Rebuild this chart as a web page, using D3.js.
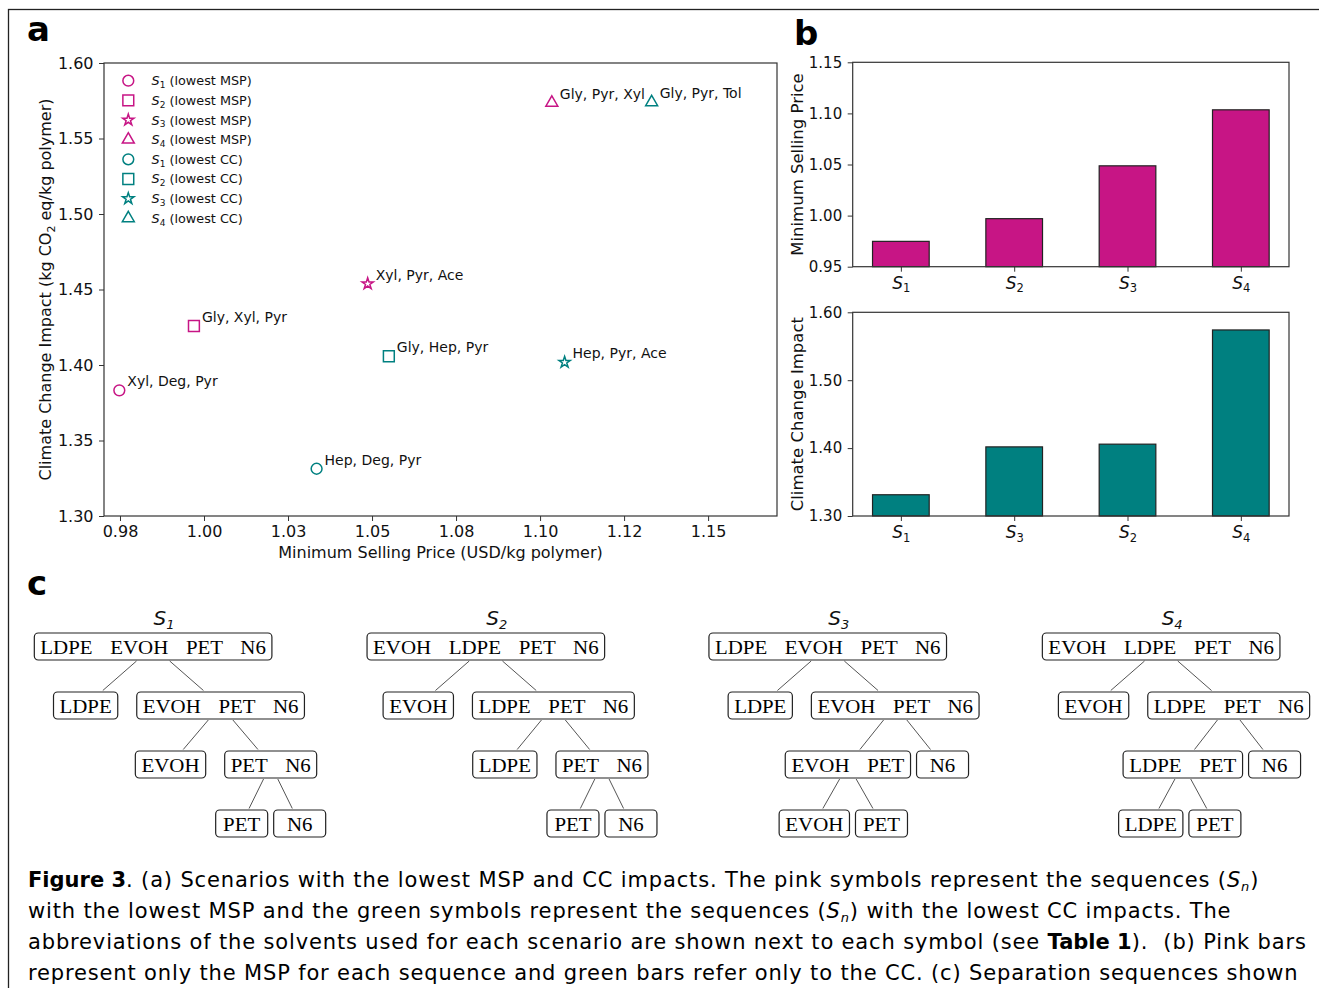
<!DOCTYPE html>
<html>
<head>
<meta charset="utf-8">
<script src="https://cdn.jsdelivr.net/npm/d3@7"></script>
<style>
  body { margin: 0; background: #fff; }
  text { font-family: "DejaVu Sans", sans-serif; fill: #111; }
</style>
</head>
<body>
<svg id="fig" width="1319" height="988"></svg>
<script>
// sequence ids used by every panel
var seqs = ["S1", "S2", "S3", "S4"];

// panel a: cheapest scenario (pink) and lowest-CC scenario (teal) per sequence
var mspSolvents = ["Xyl, Deg, Pyr", "Gly, Xyl, Pyr", "Xyl, Pyr, Ace", "Gly, Pyr, Xyl"];
var mspPrice    = [0.9748, 0.9970, 1.0487, 1.1035];
var mspImpact   = [1.3832, 1.4258, 1.4538, 1.5737];

var ccSolvents = ["Hep, Deg, Pyr", "Gly, Hep, Pyr", "Hep, Pyr, Ace", "Gly, Pyr, Tol"];
var ccPrice    = [1.0335, 1.0550, 1.1073, 1.1332];
var ccImpact   = [1.3313, 1.4058, 1.4018, 1.5740];

var xTicks      = [0.975, 1.0, 1.025, 1.05, 1.075, 1.1, 1.125, 1.15];
var xTickLabels = ["0.98", "1.00", "1.03", "1.05", "1.08", "1.10", "1.12", "1.15"];
var yTicks      = [1.30, 1.35, 1.40, 1.45, 1.50, 1.55, 1.60];

// panel b
var mspBarTicks = [0.95, 1.00, 1.05, 1.10, 1.15];
var ccBarOrder  = ["S1", "S3", "S2", "S4"];
var ccBarTicks  = [1.30, 1.40, 1.50, 1.60];

// panel c: separation sequences (n = polymers in the stream, c = split)
var treeS1 = {n: "LDPE EVOH PET N6", c: [{n: "LDPE"}, {n: "EVOH PET N6", c: [{n: "EVOH"}, {n: "PET N6", c: [{n: "PET"}, {n: "N6"}]}]}]};
var treeS2 = {n: "EVOH LDPE PET N6", c: [{n: "EVOH"}, {n: "LDPE PET N6", c: [{n: "LDPE"}, {n: "PET N6", c: [{n: "PET"}, {n: "N6"}]}]}]};
var treeS3 = {n: "LDPE EVOH PET N6", c: [{n: "LDPE"}, {n: "EVOH PET N6", c: [{n: "EVOH PET", c: [{n: "EVOH"}, {n: "PET"}]}, {n: "N6"}]}]};
var treeS4 = {n: "EVOH LDPE PET N6", c: [{n: "EVOH"}, {n: "LDPE PET N6", c: [{n: "LDPE PET", c: [{n: "LDPE"}, {n: "PET"}]}, {n: "N6"}]}]};
var trees = [treeS1, treeS2, treeS3, treeS4];

var caption = [
  [["b", "Figure 3"], ["", ". (a) Scenarios with the lowest MSP and CC impacts. The pink symbols represent the sequences ("], ["i", "S"], ["s", "n"], ["", ")"]],
  [["", "with the lowest MSP and the green symbols represent the sequences ("], ["i", "S"], ["s", "n"], ["", ") with the lowest CC impacts. The"]],
  [["", "abbreviations of the solvents used for each scenario are shown next to each symbol (see "], ["b", "Table 1"], ["", ").\u00a0 (b) Pink bars"]],
  [["", "represent only the MSP for each sequence and green bars refer only to the CC. (c) Separation sequences shown"]]
];

var pink = "#c71585", teal = "#008080", ink = "#333";
var shapes = [d3.symbolCircle, d3.symbolSquare, d3.symbolStar, d3.symbolTriangle];
var shapeSize = [92, 118, 40, 62];

var svg = d3.select("#fig");

svg.append("rect")
  .attr("x", 8.5).attr("y", 9.5).attr("width", 1400).attr("height", 1100)
  .attr("fill", "none").attr("stroke", "#222").attr("stroke-width", 1.3);

function panelLabel(t, px, py) {
  svg.append("text").attr("x", px).attr("y", py).text(t)
    .style("font-weight", "bold").style("font-size", "34px").style("fill", "#000");
}
panelLabel("a", 27, 41);
panelLabel("b", 794, 45);
panelLabel("c", 27, 595);

function styleAxis(g, size) {
  g.attr("font-family", null).attr("font-size", null);
  g.selectAll("text").style("font-size", size + "px").style("fill", "#111");
  g.selectAll("line").attr("stroke", ink);
  g.select(".domain").remove();
}

// S with a subscript number
function subLabel(sel, num, big, small, italicSub) {
  sel.append("tspan").text("S").style("font-style", "italic").style("font-size", big + "px");
  sel.append("tspan").text(num).attr("dy", big * 0.22)
    .style("font-size", small + "px").style("font-style", italicSub ? "italic" : "normal");
}

// ---------- panel a ----------
var x = d3.scaleLinear().domain([0.97024, 1.1705]).range([104, 777]);
var y = d3.scaleLinear().domain([1.30, 1.60]).range([516, 63]);

svg.append("g").attr("transform", "translate(0,516)")
  .call(d3.axisBottom(x).tickValues(xTicks).tickFormat(function(d, i) { return xTickLabels[i]; })
    .tickSize(5).tickPadding(5).tickSizeOuter(0))
  .call(styleAxis, 16);

svg.append("g").attr("transform", "translate(104,0)")
  .call(d3.axisLeft(y).tickValues(yTicks).tickFormat(d3.format(".2f"))
    .tickSize(5).tickPadding(5.5).tickSizeOuter(0))
  .call(styleAxis, 16);

svg.append("rect").attr("x", 104).attr("y", 63).attr("width", 673).attr("height", 453)
  .attr("fill", "none").attr("stroke", ink).attr("stroke-width", 1.2);

svg.append("text").attr("x", 440.5).attr("y", 558).attr("text-anchor", "middle")
  .style("font-size", "16px").text("Minimum Selling Price (USD/kg polymer)");

var yl = svg.append("text").attr("transform", "translate(51,289.5) rotate(-90)")
  .attr("text-anchor", "middle").style("font-size", "16px");
yl.append("tspan").text("Climate Change Impact (kg CO");
yl.append("tspan").text("2").attr("dy", 4).style("font-size", "11px");
yl.append("tspan").text(" eq/kg polymer)").attr("dy", -4);

var series = [
  {color: pink, px: mspPrice, py: mspImpact, lab: mspSolvents, tag: "lowest MSP"},
  {color: teal, px: ccPrice,  py: ccImpact,  lab: ccSolvents,  tag: "lowest CC"}
];

series.forEach(function(s) {
  var g = svg.append("g");
  g.selectAll("path").data(seqs).join("path")
    .attr("transform", function(d, i) { return "translate(" + x(s.px[i]) + "," + y(s.py[i]) + ")"; })
    .attr("d", function(d, i) { return d3.symbol(shapes[i], shapeSize[i])(); })
    .attr("fill", "none").attr("stroke", s.color).attr("stroke-width", 1.5);
  g.selectAll("text").data(seqs).join("text")
    .attr("x", function(d, i) { return x(s.px[i]) + 8; })
    .attr("y", function(d, i) { return y(s.py[i]) - 4; })
    .style("font-size", "14px")
    .text(function(d, i) { return s.lab[i]; });
});

// legend
var leg = svg.append("g");
series.forEach(function(s, si) {
  seqs.forEach(function(d, i) {
    var row = si * 4 + i, ly = 80.7 + row * 19.65;
    leg.append("path").attr("transform", "translate(128.3," + ly + ")")
      .attr("d", d3.symbol(shapes[i], shapeSize[i])())
      .attr("fill", "none").attr("stroke", s.color).attr("stroke-width", 1.5);
    var t = leg.append("text").attr("x", 151.5).attr("y", ly + 4.5).style("font-size", "12.8px");
    subLabel(t, d.slice(1), 12.8, 9, false);
    t.append("tspan").text(" (" + s.tag + ")").attr("dy", -12.8 * 0.22);
  });
});

// ---------- panel b ----------
var bx = d3.scaleLinear().domain([-0.425, 3.425]).range([852.7, 1289]);
var barW = bx(0.5) - bx(0);

function barPanel(order, values, ticks, lo, hi, top, bottom, color, title) {
  var by = d3.scaleLinear().domain([lo, hi]).range([bottom, top]);
  svg.append("g").attr("transform", "translate(852.7,0)")
    .call(d3.axisLeft(by).tickValues(ticks).tickFormat(d3.format(".2f")).tickSize(5).tickPadding(5.5).tickSizeOuter(0))
    .call(styleAxis, 15);
  var xa = svg.append("g").attr("transform", "translate(0," + bottom + ")")
    .call(d3.axisBottom(bx).tickValues(d3.range(order.length)).tickFormat("").tickSize(5).tickSizeOuter(0))
    .call(styleAxis, 16);
  xa.selectAll(".tick").append("text").attr("y", 22).attr("text-anchor", "middle")
    .each(function(d) { subLabel(d3.select(this), order[d].slice(1), 17, 11.5, false); });

  svg.append("g").selectAll("rect").data(order).join("rect")
    .attr("x", function(d, i) { return bx(i) - barW / 2; })
    .attr("y", function(d, i) { return by(values[i]); })
    .attr("width", barW)
    .attr("height", function(d, i) { return by(lo) - by(values[i]); })
    .attr("fill", color).attr("stroke", "#222").attr("stroke-width", 1.2);

  svg.append("rect").attr("x", 852.7).attr("y", top).attr("width", 1289 - 852.7).attr("height", bottom - top)
    .attr("fill", "none").attr("stroke", ink).attr("stroke-width", 1.2);

  svg.append("text").attr("transform", "translate(802.5," + (top + bottom) / 2 + ") rotate(-90)")
    .attr("text-anchor", "middle").style("font-size", "16.5px").text(title);
}

barPanel(seqs, mspPrice, mspBarTicks, 0.95, 1.15, 62.3, 266.7, pink, "Minimum Selling Price");
barPanel(ccBarOrder, ccBarOrder.map(function(s) { return ccImpact[seqs.indexOf(s)]; }),
  ccBarTicks, 1.30, 1.60, 312.3, 516, teal, "Climate Change Impact");

// ---------- panel c ----------
var treeFont = 19, stretch = 1.1, wordGap = 11.3, boxH = 27;
var treeX = d3.scalePoint().domain(seqs).range([180, 1176]);
var levelY = d3.scaleLinear().domain([0, 3]).range([633, 810]);

function contour(nd) {
  var half = nd.bw / 2;
  if (!nd.children) return [[-half, half]];
  var a = contour(nd.children[0]), b = contour(nd.children[1]);
  var gap = nd.children[1].children ? 19 : 6;
  var d = 0, k;
  for (k = 0; k < Math.min(a.length, b.length); k++)
    d = Math.max(d, a[k][1] - b[k][0] + (k ? 6 : gap));
  nd.children[0].off = -d / 2;
  nd.children[1].off = d / 2;
  var out = [[-half, half]];
  for (k = 0; k < Math.max(a.length, b.length); k++) {
    var lo = Infinity, hi = -Infinity;
    if (a[k]) { lo = Math.min(lo, a[k][0] - d / 2); hi = Math.max(hi, a[k][1] - d / 2); }
    if (b[k]) { lo = Math.min(lo, b[k][0] + d / 2); hi = Math.max(hi, b[k][1] + d / 2); }
    out.push([lo, hi]);
  }
  return out;
}

trees.forEach(function(tree, ti) {
  var root = d3.hierarchy(tree, function(d) { return d.c; });
  var g = svg.append("g");
  var edges = g.append("g"), boxes = g.append("g");

  var nodes = boxes.selectAll("g").data(root.descendants()).join("g");
  var rects = nodes.append("rect");
  var labels = nodes.append("text")
    .attr("text-anchor", "middle")
    .style("font-family", "'Liberation Serif', serif")
    .style("font-size", treeFont + "px")
    .style("word-spacing", wordGap + "px")
    .style("fill", "#000")
    .text(function(d) { return d.data.n; });

  labels.each(function(d) {
    d.tw = this.getBBox().width * stretch;
    d.bw = Math.max(d.tw + 12, 52);
  });

  var ext = contour(root);
  var lo = d3.min(ext, function(e) { return e[0]; }), hi = d3.max(ext, function(e) { return e[1]; });
  root.eachBefore(function(d) {
    d.cx = d.parent ? d.parent.cx + d.off : treeX(seqs[ti]) - (lo + hi) / 2;
    d.top = levelY(d.depth);
  });

  rects.attr("x", function(d) { return d.cx - d.bw / 2; })
    .attr("y", function(d) { return d.top; })
    .attr("width", function(d) { return d.bw; })
    .attr("height", boxH).attr("rx", 4)
    .attr("fill", "#fff").attr("stroke", "#222").attr("stroke-width", 1.2);
  labels.attr("transform", function(d) {
    return "translate(" + d.cx + "," + (d.top + 20.5) + ") scale(" + stretch + ",1)";
  });

  edges.selectAll("line").data(root.links()).join("line")
    .each(function(l) {
      var x0 = l.source.cx, y0 = l.source.top + boxH / 2;
      var x1 = l.target.cx, y1 = l.target.top + boxH / 2;
      var ya = l.source.top + boxH + 1, yb = l.target.top - 1.5;
      var ta = (ya - y0) / (y1 - y0), tb = (yb - y0) / (y1 - y0);
      d3.select(this)
        .attr("x1", x0 + (x1 - x0) * ta).attr("y1", ya)
        .attr("x2", x0 + (x1 - x0) * tb).attr("y2", yb);
    })
    .attr("stroke", "#555").attr("stroke-width", 1);

  var title = g.append("text").attr("x", root.cx + 11).attr("y", 625).attr("text-anchor", "middle");
  subLabel(title, seqs[ti].slice(1), 20, 13, true);
});

// ---------- caption ----------
var cap = svg.append("g").style("font-family", "Inter, sans-serif").style("font-size", "21px");
caption.forEach(function(line, li) {
  var t = cap.append("text").attr("x", 28).attr("y", 887 + li * 31).style("fill", "#000");
  var shifted = false;
  line.forEach(function(part) {
    var sp = t.append("tspan").text(part[1]);
    if (part[0] === "b") sp.style("font-weight", "bold");
    else sp.style("letter-spacing", "0.85px");
    if (part[0] === "i") sp.style("font-style", "italic");
    if (part[0] === "s") { sp.style("font-style", "italic").style("font-size", "13px").attr("dy", 4); shifted = true; }
    else if (shifted) { sp.attr("dy", -4); shifted = false; }
  });
});
</script>
</body>
</html>
